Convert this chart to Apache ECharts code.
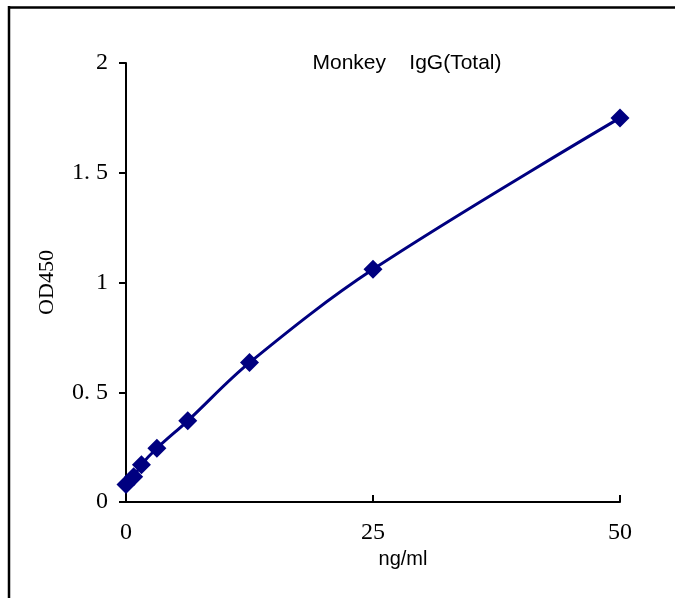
<!DOCTYPE html>
<html><head><meta charset="utf-8">
<script src="https://cdn.jsdelivr.net/npm/echarts@6/dist/echarts.min.js"></script>
<style>html,body{margin:0;padding:0;background:#fff}#c{width:675px;height:598px}</style>
</head><body><div id="c"></div>
<script>
const titleText = 'Monkey    IgG(Total)';
const xName = 'ng/ml';
const yName = 'OD450';
const concentrations = [0, 0.78, 1.56, 3.125, 6.25, 12.5, 25, 50];
const od450 = [0.08, 0.115, 0.17, 0.245, 0.37, 0.635, 1.06, 1.75];
const xTicks = [0, 25, 50];
const yTicks = [0, 0.5, 1, 1.5, 2];

const chart = echarts.init(document.getElementById('c'));
const serif = '"Liberation Serif", "DejaVu Serif", serif';
const sans = '"Liberation Sans", Arial, sans-serif';
chart.setOption({
  animation: false,
  backgroundColor: '#fff',
  title: {
    text: titleText, left: 402, top: 48, textAlign: 'center',
    textStyle: {fontFamily: sans, fontSize: 21, fontWeight: 'normal', color: '#000'}
  },
  grid: {left: 126, right: 55, top: 63, bottom: 96, containLabel: false},
  xAxis: {
    type: 'value', min: xTicks[0], max: xTicks[xTicks.length - 1], interval: 25,
    name: xName, nameLocation: 'middle', nameGap: 47,
    nameTextStyle: {fontFamily: sans, fontSize: 20, color: '#000', padding: [0, 0, 0, 60]},
    axisLine: {lineStyle: {color: '#000', width: 2}},
    axisTick: {inside: true, length: 7, lineStyle: {color: '#000', width: 2}},
    axisLabel: {fontFamily: serif, fontSize: 24, color: '#000', margin: 19},
    splitLine: {show: false}
  },
  yAxis: {
    type: 'value', min: yTicks[0], max: yTicks[yTicks.length - 1], interval: 0.5,
    name: yName, nameLocation: 'middle', nameGap: 68, nameRotate: 90,
    nameTextStyle: {fontFamily: serif, fontSize: 22, color: '#000'},
    axisLine: {lineStyle: {color: '#000', width: 2}},
    axisTick: {inside: false, length: 7, lineStyle: {color: '#000', width: 2}},
    axisLabel: {fontFamily: serif, fontSize: 24, color: '#000', margin: 18,
      formatter: v => String(v).replace('.', '. ')},
    splitLine: {show: false}
  },
  graphic: [
    {type: 'line', shape: {x1: 8, y1: 7.5, x2: 675, y2: 7.5}, style: {stroke: '#000', lineWidth: 2.5}},
    {type: 'line', shape: {x1: 9, y1: 6, x2: 9, y2: 598}, style: {stroke: '#000', lineWidth: 2.5}}
  ],
  series: [{
    type: 'line', smooth: 0.35,
    data: concentrations.map((c, i) => [c, od450[i]]),
    symbol: 'diamond', symbolSize: 19,
    lineStyle: {color: '#000080', width: 3},
    itemStyle: {color: '#000080'}
  }]
});
</script></body></html>
